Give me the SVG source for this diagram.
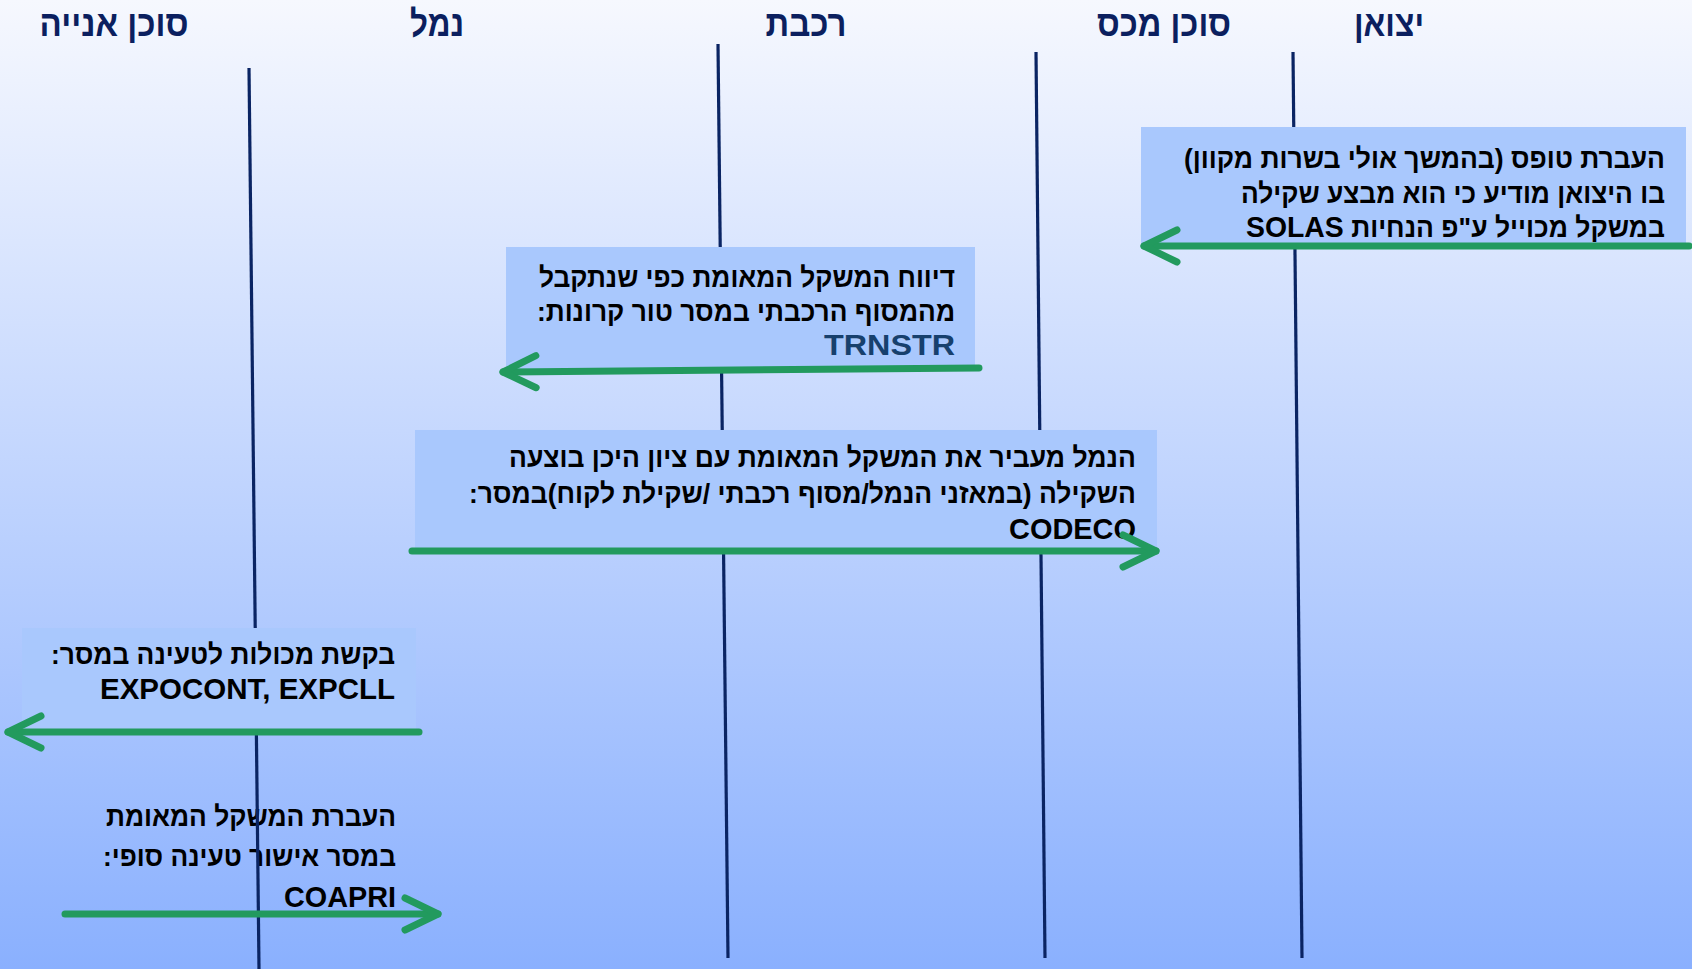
<svg xmlns="http://www.w3.org/2000/svg" width="1692" height="969" viewBox="0 0 1692 969">
<defs>
<linearGradient id="bg" x1="0" y1="0" x2="0" y2="1">
<stop offset="0" stop-color="#F6F8FE"/>
<stop offset="1" stop-color="#8AB0FE"/>
</linearGradient>
<marker id="head" viewBox="-40 -22 46 44" markerWidth="46" markerHeight="44" refX="0" refY="0" markerUnits="userSpaceOnUse" orient="auto" overflow="visible">
<path d="M-33,-16 L0,0 L-33,16" fill="none" stroke="#229A5E" stroke-width="7" stroke-linecap="round" stroke-linejoin="round"/>
</marker>
</defs>
<style>
.hdr{font-family:"Liberation Sans",Arial,"DejaVu Sans",sans-serif;font-weight:bold;font-size:37px;fill:#0B1F5F;text-anchor:middle;direction:rtl}
.life{stroke:#0A2463;stroke-width:3.2;fill:none}
.box{fill:#A9C8FD}
.t{font-family:"Liberation Sans",Arial,"DejaVu Sans",sans-serif;font-weight:bold;font-size:28px;fill:#000;direction:rtl;text-anchor:start}
.lat{font-size:30px}
.code{fill:#17406D}
.msg{stroke:#229A5E;stroke-width:7;fill:none;stroke-linecap:round;marker-end:url(#head)}
</style>
<rect x="0" y="0" width="1692" height="969" fill="url(#bg)"/>

<g id="msg5">
<text class="t" x="396" y="826" textLength="290" lengthAdjust="spacingAndGlyphs">העברת המשקל המאומת</text>
<text class="t" x="396" y="866" textLength="293" lengthAdjust="spacingAndGlyphs">במסר אישור טעינה סופי:</text>
<text class="t lat" x="396" y="907" textLength="112" lengthAdjust="spacingAndGlyphs">COAPRI</text>
</g>

<g id="ship-agent">
<text class="hdr" x="114" y="36" textLength="149" lengthAdjust="spacingAndGlyphs">סוכן אנייה</text>
<line class="life" x1="249" y1="68" x2="259" y2="969"/>
</g>
<g id="port">
<text class="hdr" x="437" y="36" textLength="54" lengthAdjust="spacingAndGlyphs">נמל</text>
</g>
<g id="rail">
<text class="hdr" x="806" y="36" textLength="81" lengthAdjust="spacingAndGlyphs">רכבת</text>
<line class="life" x1="718" y1="44" x2="728" y2="958"/>
</g>
<g id="customs-agent">
<text class="hdr" x="1164" y="36" textLength="134" lengthAdjust="spacingAndGlyphs">סוכן מכס</text>
<line class="life" x1="1036" y1="52" x2="1045" y2="958"/>
</g>
<g id="exporter">
<text class="hdr" x="1389" y="36" textLength="70" lengthAdjust="spacingAndGlyphs">יצואן</text>
<line class="life" x1="1293" y1="52" x2="1302" y2="958"/>
</g>

<g id="msg1">
<rect class="box" x="1141" y="127" width="545" height="119"/>
<text class="t" x="1665" y="168" textLength="481" lengthAdjust="spacingAndGlyphs">העברת טופס (בהמשך אולי בשרות מקוון)</text>
<text class="t" x="1665" y="203" textLength="424" lengthAdjust="spacingAndGlyphs">בו היצואן מודיע כי הוא מבצע שקילה</text>
<text class="t" x="1665" y="237" textLength="419" lengthAdjust="spacingAndGlyphs">במשקל מכוייל ע"פ הנחיות <tspan class="lat">SOLAS</tspan></text>
</g>
<g id="msg2">
<rect class="box" x="506" y="247" width="469" height="122"/>
<text class="t" x="955" y="287" textLength="416" lengthAdjust="spacingAndGlyphs">דיווח המשקל המאומת כפי שנתקבל</text>
<text class="t" x="955" y="321" textLength="418" lengthAdjust="spacingAndGlyphs">מהמסוף הרכבתי במסר טור קרונות:</text>
<text class="t lat code" x="955" y="355" textLength="131" lengthAdjust="spacingAndGlyphs">TRNSTR</text>
</g>
<g id="msg3">
<rect class="box" x="415" y="430" width="742" height="121"/>
<text class="t" x="1136" y="467" textLength="627" lengthAdjust="spacingAndGlyphs">הנמל מעביר את המשקל המאומת  עם ציון היכן בוצעה</text>
<text class="t" x="1136" y="503" textLength="667" lengthAdjust="spacingAndGlyphs">השקילה (במאזני הנמל/מסוף רכבתי /שקילת לקוח)במסר:</text>
<text class="t lat" x="1136" y="539" textLength="127" lengthAdjust="spacingAndGlyphs">CODECO</text>
</g>
<g id="msg4">
<rect class="box" x="22" y="628" width="394" height="102"/>
<text class="t" x="395" y="664" textLength="344" lengthAdjust="spacingAndGlyphs">בקשת מכולות לטעינה במסר:</text>
<text class="t lat" x="395" y="699" textLength="295" lengthAdjust="spacingAndGlyphs">EXPOCONT, EXPCLL</text>
</g>

<g id="connectors">
<path class="msg" d="M1689,246 L1144,246"/>
<path class="msg" d="M979,368 L503,372"/>
<path class="msg" d="M412,551 L1156,551"/>
<path class="msg" d="M419,732 L8,732"/>
<path class="msg" d="M65,914 L438,914"/>
</g>
</svg>
